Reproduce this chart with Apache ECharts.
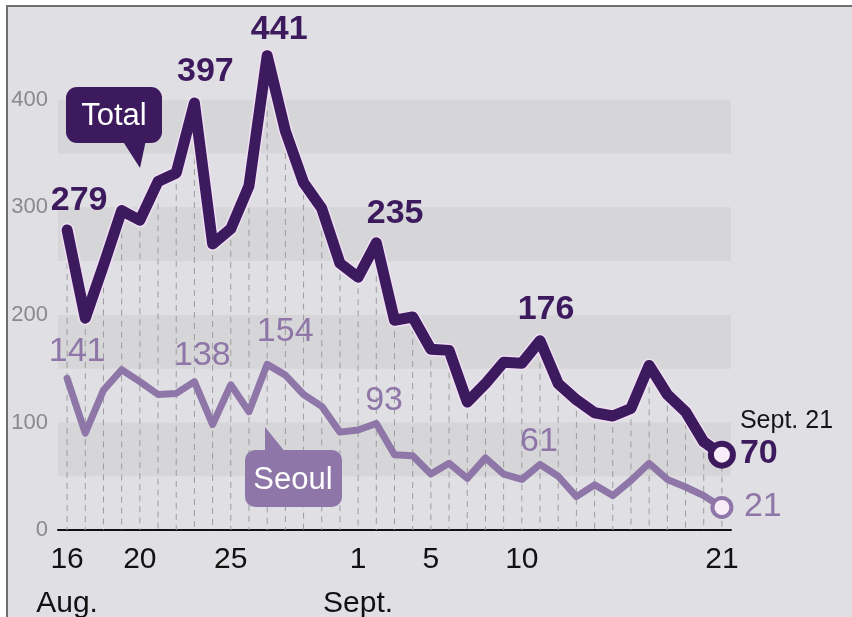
<!DOCTYPE html>
<html>
<head>
<meta charset="utf-8">
<script src="https://cdn.jsdelivr.net/npm/echarts@6/dist/echarts.min.js"></script>
<style>
  html, body { margin: 0; padding: 0; background: #ffffff; }
  #wrap { position: relative; width: 852px; height: 617px; overflow: hidden; }
  #bg { position: absolute; left: 6px; top: 5px; width: 900px; height: 700px;
        background: #e0dfe3; border: 2px solid #6e6e6e; box-sizing: border-box; }
  #chart { position: absolute; left: 0; top: 0; width: 852px; height: 617px; }
</style>
</head>
<body>
<div id="wrap"><div id="bg"></div><div id="chart"></div></div>
<script>
// ---- data ----
const categories = [
  'Aug 16','Aug 17','Aug 18','Aug 19','Aug 20','Aug 21','Aug 22','Aug 23','Aug 24','Aug 25',
  'Aug 26','Aug 27','Aug 28','Aug 29','Aug 30','Aug 31','Sept 1','Sept 2','Sept 3','Sept 4',
  'Sept 5','Sept 6','Sept 7','Sept 8','Sept 9','Sept 10','Sept 11','Sept 12','Sept 13','Sept 14',
  'Sept 15','Sept 16','Sept 17','Sept 18','Sept 19','Sept 20','Sept 21'
];
const totalCases = [279,197,246,297,288,324,332,397,266,280,320,441,371,323,299,248,235,267,195,198,
                    168,167,119,136,156,155,176,136,121,109,106,113,153,126,110,82,70];
const seoulCases = [141,90,130,149,138,126,127,138,98,135,110,154,144,126,115,91,93,99,70,69,
                    52,62,48,67,52,47,61,50,31,42,32,46,62,47,40,32,21];
const xTickCategories = ['Aug 16','Aug 20','Aug 25','Sept 1','Sept 5','Sept 10','Sept 21'];
const xTickLabels = ['16\nAug.','20','25','1\nSept.','5','10','21'];
const yTickLabels = [0,100,200,300,400];
const seriesNames = ['Total','Seoul'];
const endDateLabel = 'Sept. 21';

// ---- styles ----
const FONT = 'Liberation Sans, Arial, sans-serif';
const C_TOTAL = '#3d1a5e';
const C_SEOUL = '#8e77a8';

// label placement (offsets from the point, px)
const totalLabelOffsets = { 0: [12, -29], 7: [11, -31], 11: [12, -26], 16: [37, -64], 26: [6, -31] };
const seoulLabelOffsets = { 0: [10, -27], 7: [8, -26], 11: [18, -33], 16: [26, -29], 26: [-1, -23] };

function buildData(values, offsets, color, bold, endStyle, endLabel) {
  const last = values.length - 1;
  return values.map((v, i) => {
    const item = { value: v };
    if (offsets[i]) {
      item.label = {
        show: true, position: 'inside', offset: offsets[i],
        color: color, fontSize: 34, fontWeight: bold ? 'bold' : 'normal', fontFamily: FONT
      };
    }
    if (i === last) {
      item.symbol = 'circle';
      item.symbolSize = endStyle.size;
      item.itemStyle = { color: '#f8ecf8', borderColor: color, borderWidth: endStyle.border };
      item.label = endLabel;
    }
    return item;
  });
}

const totalEndLabel = {
  show: true, position: 'inside', align: 'left', verticalAlign: 'middle', offset: [18, -16],
  formatter: '{d|' + endDateLabel + '}\n{v|{c}}',
  rich: {
    d: { fontSize: 25, color: '#151515', fontFamily: FONT, lineHeight: 30 },
    v: { fontSize: 34, color: C_TOTAL, fontWeight: 'bold', fontFamily: FONT, lineHeight: 36 }
  }
};
const seoulEndLabel = {
  show: true, position: 'inside', align: 'left', verticalAlign: 'middle', offset: [22, -1],
  color: C_SEOUL, fontSize: 34, fontFamily: FONT
};

const chart = echarts.init(document.getElementById('chart'), null, { renderer: 'canvas' });

function bubble(rect, tail, text, textPos, color) {
  return [
    { type: 'rect', z: 100, silent: true, shape: rect, style: { fill: color } },
    { type: 'polygon', z: 100, silent: true, shape: { points: tail }, style: { fill: color } },
    { type: 'text', z: 101, silent: true, x: textPos[0], y: textPos[1],
      style: { text: text, fill: '#fff', font: '31px ' + FONT, align: 'center', verticalAlign: 'middle' } }
  ];
}

const option = {
  backgroundColor: 'transparent',
  animation: false,
  grid: { left: 58, right: 121, top: 46, bottom: 87, containLabel: false, outerBoundsMode: 'none' },
  xAxis: {
    type: 'category',
    data: categories,
    boundaryGap: true,
    axisLine: { show: true, lineStyle: { color: '#111', width: 2 } },
    axisTick: { show: false },
    axisLabel: {
      interval: (idx, val) => xTickCategories.includes(val),
      formatter: (val) => { const k = xTickCategories.indexOf(val); return k >= 0 ? xTickLabels[k] : ''; },
      color: '#111', fontSize: 30, fontFamily: FONT, lineHeight: 44, margin: 8
    },
    splitLine: { show: false }
  },
  yAxis: {
    type: 'value', min: 0, max: 450, interval: 50,
    axisLine: { show: false }, axisTick: { show: false },
    axisLabel: {
      formatter: (v) => yTickLabels.includes(v) ? String(v) : '',
      color: '#8a8a8a', fontSize: 22, fontFamily: FONT, margin: 10, padding: [6, 0, 0, 0]
    },
    splitLine: { show: false },
    splitArea: { show: true, areaStyle: { color: ['rgba(0,0,0,0)', '#d6d6d8'] } }
  },
  series: [
    {
      type: 'custom',
      silent: true,
      z: 1,
      data: totalCases.map((v, i) => [i, v]),
      renderItem: (params, api) => {
        const i = api.value(0), v = api.value(1);
        const top = api.coord([i, v]);
        const bot = api.coord([i, 0]);
        return {
          type: 'line',
          shape: { x1: top[0], y1: top[1], x2: bot[0], y2: bot[1] },
          style: { stroke: '#9d9d9f', lineWidth: 1, lineDash: [6, 5] }
        };
      }
    },
    {
      name: seriesNames[0] + ' halo',
      type: 'line',
      silent: true,
      z: 3,
      data: totalCases,
      symbol: 'none',
      lineStyle: { color: '#efdff3', width: 14, join: 'round', cap: 'round' }
    },
    {
      name: seriesNames[1],
      type: 'line',
      z: 4,
      data: buildData(seoulCases, seoulLabelOffsets, C_SEOUL, false, { size: 19, border: 4 }, seoulEndLabel),
      symbol: 'circle', symbolSize: 1, showSymbol: true, showAllSymbol: true,
      itemStyle: { color: 'rgba(0,0,0,0)' },
      lineStyle: { color: C_SEOUL, width: 7, join: 'round', cap: 'round' },
      emphasis: { disabled: true }
    },
    {
      name: seriesNames[0],
      type: 'line',
      z: 5,
      data: buildData(totalCases, totalLabelOffsets, C_TOTAL, true, { size: 22, border: 6 }, totalEndLabel),
      symbol: 'circle', symbolSize: 1, showSymbol: true, showAllSymbol: true,
      itemStyle: { color: 'rgba(0,0,0,0)' },
      lineStyle: { color: C_TOTAL, width: 11, join: 'round', cap: 'round' },
      emphasis: { disabled: true }
    }
  ],
  graphic: {
    elements: [].concat(
      bubble({ x: 66, y: 87, width: 96, height: 56, r: 11 }, [[122, 140], [146, 140], [140, 168]], seriesNames[0], [114, 116], C_TOTAL),
      bubble({ x: 245, y: 450, width: 97, height: 57, r: 10 }, [[265, 427], [265, 453], [286, 453]], seriesNames[1], [293, 480], C_SEOUL)
    )
  }
};
chart.setOption(option);
</script>
</body>
</html>
